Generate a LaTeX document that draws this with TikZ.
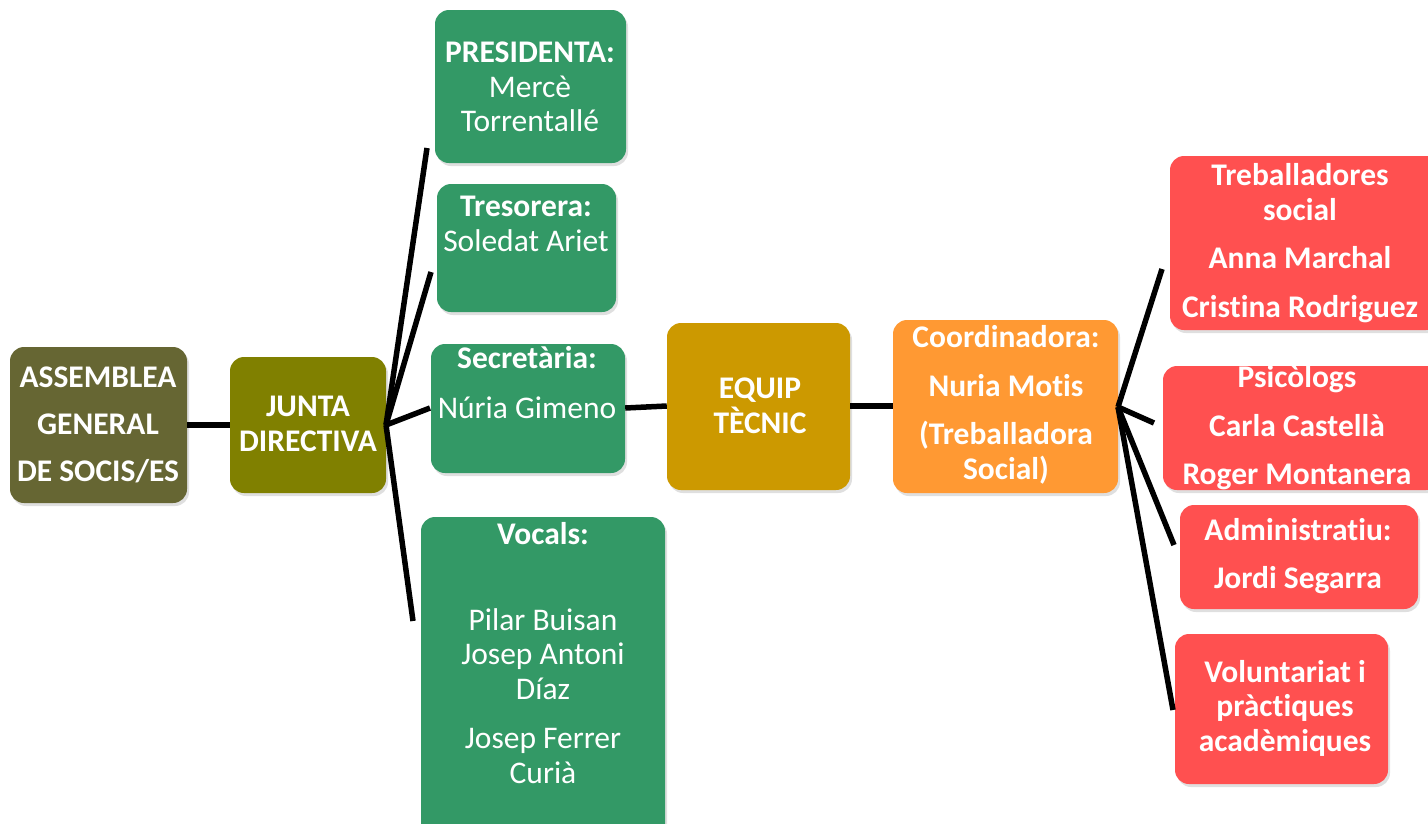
\documentclass[tikz,border=0pt]{standalone}
\usepackage{fontspec}
\setmainfont[Ligatures=NoCommon]{Carlito}
\usetikzlibrary{shadows}
\definecolor{cAss}{HTML}{666633}
\definecolor{cJun}{HTML}{808000}
\definecolor{cGrn}{HTML}{339966}
\definecolor{cEqu}{HTML}{CC9900}
\definecolor{cOrg}{HTML}{FF9933}
\definecolor{cRed}{HTML}{FF5050}
\tikzset{
  box/.style={rectangle, rounded corners=14pt, inner sep=0pt, draw=none,
    drop shadow={opacity=0.25, shadow xshift=2pt, shadow yshift=-3pt}},
  txt/.style={text=white, align=center, inner sep=0pt, font=\fontsize{31.5}{34.5}\selectfont},
  btxt/.style={txt, font=\fontsize{31.5}{34.5}\selectfont\bfseries},
  link/.style={line width=5.5pt, black},
}
\newcommand{\boxat}[6]{% name, color, x1, y1, x2, y2
  \node[box, fill=#2, minimum width=#5pt-#3pt, minimum height=#6pt-#4pt] (#1) at ({(#3+#5)/2},{(#4+#6)/2}) {};}
\begin{document}
\begin{tikzpicture}[x=1pt, y=-1pt]
\useasboundingbox (0,0) rectangle (1428,823);
% boxes
\boxat{ass}{cAss}{10}{347}{187}{503}
\boxat{jun}{cJun}{230}{357}{386}{493}
\boxat{pre}{cGrn}{435}{10}{626}{163}
\boxat{tre}{cGrn}{437}{184}{616}{312}
\boxat{sec}{cGrn}{431}{344}{625}{473}
\boxat{voc}{cGrn}{421}{517}{665}{840}
\boxat{equ}{cEqu}{667}{323}{850}{490}
\boxat{coo}{cOrg}{893}{320}{1118}{493}
\boxat{tsw}{cRed}{1170}{156}{1440}{330}
\boxat{psi}{cRed}{1163}{366}{1440}{490}
\boxat{adm}{cRed}{1180}{505}{1418}{609}
\boxat{vol}{cRed}{1175}{634}{1388}{784}
% texts
\node[btxt, font=\fontsize{31.5}{47}\selectfont\bfseries] (tass) at (98,425) {ASSEMBLEA\\GENERAL\\DE SOCIS/ES};
\node[btxt] (tjun) at (308,424) {JUNTA\\DIRECTIVA};
\node[txt] (tpre) at (530,87) {\textbf{PRESIDENTA:}\\Mercè\\Torrentallé};
\node[txt] (ttre) at (526,224) {\textbf{Tresorera:}\\Soledat Ariet};
\node[txt, font=\fontsize{31.5}{50}\selectfont] (tsec) at (527,383) {\textbf{Secretària:}\\Núria Gimeno};
\node[btxt] (tvoc) at (543,534) {Vocals:};
\node[txt] (tvon) at (543,696) {Pilar Buisan\\Josep Antoni\\Díaz\\[15pt]Josep Ferrer\\Curià};
\node[btxt] (tequ) at (760,406) {EQUIP\\TÈCNIC};
\node[btxt] (tcoo) at (1006,405) {Coordinadora:\\[14pt]Nuria Motis\\[14pt](Treballadora\\Social)};
\node[btxt] (ttsw) at (1300,243) {Treballadores\\social\\[14pt]Anna Marchal\\[14pt]Cristina Rodriguez};
\node[btxt, font=\fontsize{31.5}{48.5}\selectfont\bfseries] (tpsi) at (1297,428) {Psicòlogs\\Carla Castellà\\Roger Montanera};
\node[btxt, font=\fontsize{31.5}{48}\selectfont\bfseries] (tadm) at (1298,556) {Administratiu:\\Jordi Segarra};
\node[btxt] (tvol) at (1285,708) {Voluntariat i\\pràctiques\\acadèmiques};
% connector points
\coordinate (jhub) at (386,425);
\coordinate (chub) at (1118,407);
\coordinate (epre) at (427,148);
\coordinate (etre) at (431,272);
\coordinate (esec) at (430,408);
\coordinate (evoc) at (413,621);
\coordinate (etsw) at (1162,269);
\coordinate (epsi) at (1154,423);
\coordinate (eadm) at (1174,545);
\coordinate (evol) at (1173,710);
% connectors
\draw[link] (ass.east) -- (jun.west);
\draw[link] (jhub) -- (epre);
\draw[link] (jhub) -- (etre);
\draw[link] (jhub) -- (esec);
\draw[link] (jhub) -- (evoc);
\draw[link] (sec.east |- 0,408) -- (equ.west |- 0,406);
\draw[link] (equ.east |- 0,406) -- (coo.west |- 0,406);
\draw[link] (chub) -- (etsw);
\draw[link] (chub) -- (epsi);
\draw[link] (chub) -- (eadm);
\draw[link] (chub) -- (evol);
\end{tikzpicture}
\end{document}
